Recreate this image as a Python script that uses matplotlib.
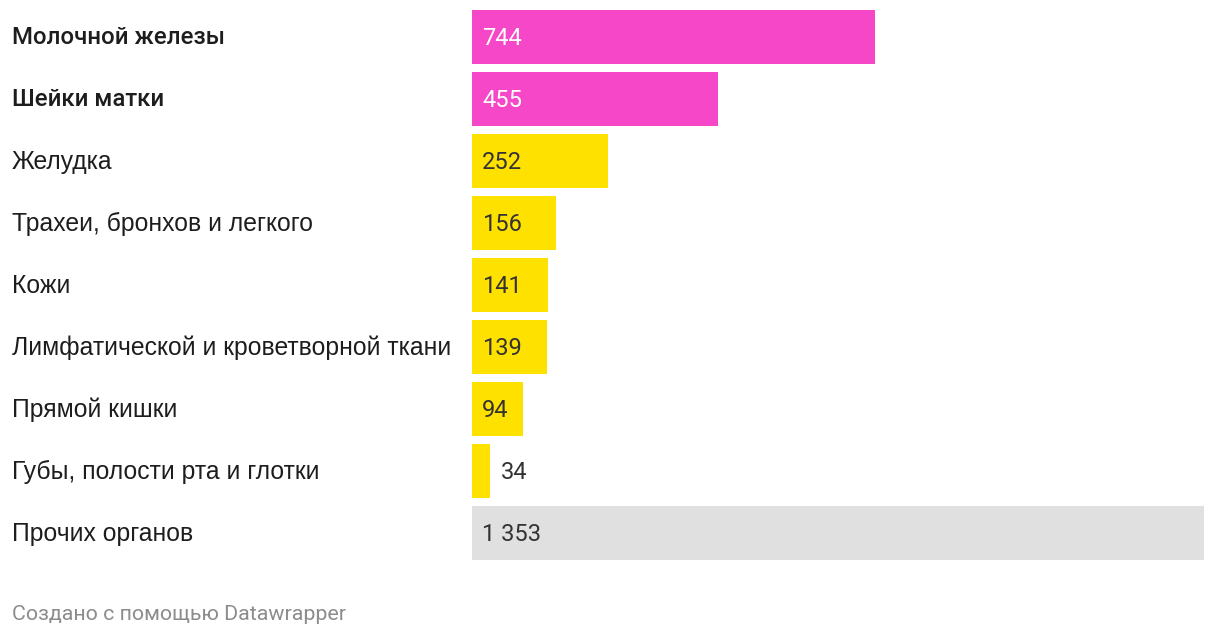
import matplotlib
matplotlib.use("Agg")
import matplotlib.pyplot as plt
from matplotlib.transforms import blended_transform_factory, offset_copy

categories = ["Молочной железы", "Шейки матки", "Желудка", "Трахеи, бронхов и легкого",
              "Кожи", "Лимфатической и кроветворной ткани", "Прямой кишки",
              "Губы, полости рта и глотки", "Прочих органов"]
values = [744, 455, 252, 156, 141, 139, 94, 34, 1353]
value_labels = ["744", "455", "252", "156", "141", "139", "94", "34", "1 353"]
bold_rows = [0, 1]
colors = ["#f547c7", "#f547c7"] + ["#ffe100"] * 6 + ["#e0e0e0"]
value_colors = ["#ffffff", "#ffffff"] + ["#333333"] * 7

W, H = 1220, 636
fig = plt.figure(figsize=(W / 100, H / 100), dpi=100)
ax = fig.add_axes([472 / W, (H - 564) / H, 732 / W, 558 / H])
ax.set_xlim(0, 1353)
ax.set_ylim(len(values) - 0.5, -0.5)
ax.axis("off")

ys = list(range(len(values)))
ax.barh(ys, values, height=54 / 62, color=colors, linewidth=0)

tr = blended_transform_factory(fig.transFigure, ax.transData)
tr = offset_copy(tr, fig=fig, x=0, y=1.5, units="dots")
for i, (cat, v, lab) in enumerate(zip(categories, values, value_labels)):
    if i in bold_rows:
        ax.text(12 / W, i, cat, transform=tr, ha="left", va="center_baseline",
                fontsize=17.3, family="Roboto", fontweight="medium", color="#1d1d1d")
    else:
        ax.text(12 / W, i, cat, transform=tr, ha="left", va="center_baseline",
                fontsize=17.8, family="Liberation Sans", color="#1d1d1d")
    inside = v > 60
    x0 = 0 if inside else v
    ax.annotate(lab, (x0, i), xytext=(7.2, 1), textcoords="offset points",
                ha="left", va="center_baseline", fontsize=17, family="Roboto",
                color=value_colors[i] if inside else "#333333")

fig.text(12 / W, 1 - 612 / H, "Создано с помощью Datawrapper", ha="left", va="center_baseline",
         fontsize=15.4, family="Roboto", color="#8c8c8c")

fig.savefig("out.png", dpi=100, facecolor="white")
